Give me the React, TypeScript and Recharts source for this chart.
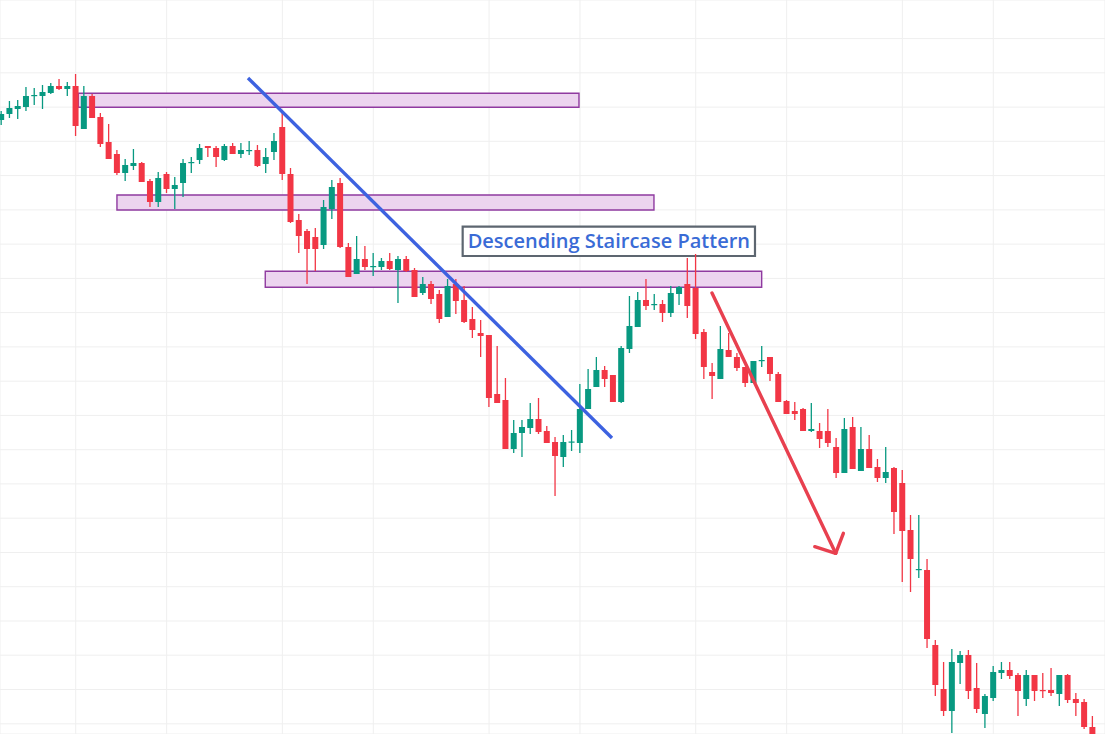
import {
  ComposedChart,
  Bar,
  XAxis,
  YAxis,
  CartesianGrid,
  ReferenceArea,
  ReferenceLine,
} from "recharts";

// candle prices (one entry per session)
const OPEN = [
  614, 620, 625, 627, 638, 638, 641, 648, 645, 648,
  605, 638, 617, 592, 580, 561, 568, 571, 553, 532,
  560, 545, 551, 571, 574, 588, 586, 574, 588, 580,
  583, 584, 570, 582, 607, 560, 514, 503, 497, 489,
  525, 551, 487, 460, 475, 467, 467, 473, 464, 475,
  464, 441, 450, 440, 417, 450, 434, 415, 401, 399,
  340, 334, 285, 301, 306, 315, 303, 292, 277, 292,
  291, 325, 347, 364, 359, 332, 385, 407, 434, 429,
  430, 421, 440, 450, 446, 402, 362, 355, 384, 377,
  367, 351, 373, 377, 360, 333, 323, 325, 303, 303,
  303, 287, 261, 307, 263, 285, 267, 256, 266, 251,
  204, 164, 164, 89, 45, 23, 71, 79, 46, 20,
  36, 61, 64, 59, 35, 59, 44, 44, 40, 59,
  35, 32, 7,
];
const HIGH = [
  623, 633, 634, 647, 646, 649, 651, 655, 652, 660,
  648, 640, 621, 610, 584, 575, 585, 572, 555, 562,
  562, 557, 575, 577, 590, 588, 588, 590, 591, 591,
  593, 589, 586, 601, 624, 566, 520, 505, 506, 534,
  554, 556, 491, 498, 488, 481, 476, 481, 478, 478,
  466, 457, 453, 444, 455, 455, 448, 427, 414, 399,
  388, 356, 314, 314, 331, 336, 308, 297, 299, 304,
  350, 365, 377, 368, 359, 388, 438, 442, 455, 440,
  434, 448, 448, 476, 480, 405, 371, 408, 401, 381,
  367, 373, 388, 377, 362, 334, 332, 326, 331, 311,
  325, 296, 316, 317, 307, 299, 275, 287, 267, 264,
  219, 219, 175, 94, 72, 85, 83, 84, 71, 40,
  68, 72, 72, 61, 64, 59, 61, 66, 59, 60,
  41, 35, 18,
];
const LOW = [
  609, 616, 615, 623, 629, 625, 640, 644, 638, 598,
  605, 616, 587, 575, 559, 553, 564, 552, 527, 527,
  541, 525, 537, 561, 570, 577, 567, 573, 580, 576,
  579, 567, 561, 574, 554, 511, 481, 450, 463, 485,
  515, 486, 457, 460, 464, 458, 464, 464, 431, 462,
  437, 439, 430, 411, 417, 420, 411, 396, 377, 327,
  331, 285, 281, 277, 300, 300, 291, 238, 267, 283,
  281, 325, 347, 347, 332, 331, 381, 407, 424, 424,
  412, 417, 429, 416, 395, 355, 335, 355, 377, 363,
  347, 351, 367, 353, 332, 320, 314, 303, 302, 286,
  287, 256, 261, 265, 263, 266, 252, 251, 200, 152,
  142, 156, 86, 38, 18, 1, 50, 35, 21, 6,
  33, 55, 55, 18, 28, 33, 36, 38, 28, 31,
  18, 5, -6,
];
const CLOSE = [
  620, 626, 628, 638, 639, 642, 648, 645, 648, 608,
  638, 616, 590, 575, 561, 569, 571, 552, 532, 556,
  545, 549, 571, 572, 586, 586, 577, 588, 580, 584,
  584, 568, 577, 593, 560, 512, 498, 485, 485, 527,
  547, 487, 457, 475, 467, 468, 473, 465, 475, 463,
  437, 450, 435, 415, 448, 433, 412, 404, 398, 336,
  331, 285, 301, 307, 315, 302, 291, 278, 292, 292.5,
  325, 345, 364, 355, 332, 386, 408, 434, 428, 430,
  421, 441, 447, 428, 400, 367, 358, 385, 377, 366,
  351, 373, 374, 360, 332, 320, 320, 303, 305, 295,
  291, 261, 305, 265, 285, 266, 256, 262, 222, 203,
  175, 165, 95, 49, 23, 72, 79, 43, 25, 38,
  62, 64, 58, 43, 59, 43, 43, 41, 59, 34,
  31, 7, -2,
];

// grid positions (session index / price level)
const GRID_X = [9, 20, 34, 45, 59, 70, 84, 95, 109, 120];
const GRID_Y = [
  729.7, 695.4, 661.2, 626.9, 592.7, 558.4, 524.1, 489.9, 455.6, 421.4, 387.1,
  352.8, 318.6, 284.3, 250.1, 215.8, 181.5, 147.3, 113.0, 78.8, 44.5, 10.2,
];

// support zones: [fromIndex, toIndex, top, bottom]
const ZONES = [
  [9.31, 69.88, 640.7, 626.7],
  [13.99, 78.95, 539, 524],
  [31.93, 91.98, 462.7, 446.7],
];

const TRENDLINE = [
  { x: 29.84, y: 656 },
  { x: 73.87, y: 296 },
];
const ARROW = [
  { x: 85.97, y: 441 },
  { x: 100.93, y: 180.7 },
];
const ARROW_HEAD = [
  { x: 98.4, y: 187.3 },
  { x: 101.86, y: 200.7 },
];

const LABEL = "Descending Staircase Pattern";
const LABEL_BOX = [55.81, 91.17, 507.3, 478];

const UP = "#089981";
const DOWN = "#f23645";

const data = OPEN.map((open, i) => ({
  i,
  open,
  high: HIGH[i],
  low: LOW[i],
  close: CLOSE[i],
}));

const Candle = (props: any) => {
  const { x, y, width, height, payload } = props;
  const { open, close, high, low } = payload;
  const color = close >= open ? UP : DOWN;
  const h = Math.abs(height);
  const top = Math.min(y, y + height);
  const ratio = high === low ? 0 : h / (high - low);
  const bodyTop = top + (high - Math.max(open, close)) * ratio;
  const bodyH = Math.max(1.2, Math.abs(open - close) * ratio);
  const cx = x + width / 2;
  return (
    <g>
      <line x1={cx} x2={cx} y1={top} y2={top + h} stroke={color} strokeWidth={1.3} />
      <rect x={x} y={bodyTop} width={width} height={bodyH} fill={color} />
    </g>
  );
};

const App = () => {
  return (
    <div style={{ position: "absolute", left: 0, top: 0, background: "#fff" }}>
      <ComposedChart
        width={1105}
        height={734}
        data={data}
        margin={{ top: 0, right: 0, bottom: 0, left: 0 }}
      >
        <CartesianGrid stroke="#efefef" strokeWidth={1} />
        <XAxis
          dataKey="i"
          type="number"
          domain={[-0.157, 133.51]}
          ticks={GRID_X}
          allowDataOverflow
          hide
        />
        <YAxis
          type="number"
          domain={[0, 734]}
          ticks={GRID_Y}
          allowDataOverflow
          hide
        />
        {ZONES.map(([x1, x2, y1, y2], k) => (
          <ReferenceArea
            key={`zone-${k}`}
            x1={x1}
            x2={x2}
            y1={y1}
            y2={y2}
            fill="#ecd4ef"
            fillOpacity={1}
            stroke="#8f3aa0"
            strokeWidth={1.4}
            ifOverflow="visible"
          />
        ))}
        <Bar
          dataKey={(d: any) => [d.low, d.high]}
          barSize={6}
          shape={<Candle />}
          isAnimationActive={false}
        />
        <ReferenceLine
          segment={TRENDLINE}
          stroke="#3d62e0"
          strokeWidth={3.4}
          ifOverflow="visible"
        />
        <ReferenceLine
          segment={ARROW}
          stroke="#e8404f"
          strokeWidth={3.4}
          strokeLinecap="round"
          ifOverflow="visible"
        />
        <ReferenceLine
          segment={[ARROW_HEAD[0], ARROW[1]]}
          stroke="#e8404f"
          strokeWidth={3.4}
          strokeLinecap="round"
          ifOverflow="visible"
        />
        <ReferenceLine
          segment={[ARROW_HEAD[1], ARROW[1]]}
          stroke="#e8404f"
          strokeWidth={3.4}
          strokeLinecap="round"
          ifOverflow="visible"
        />
        <ReferenceArea
          x1={LABEL_BOX[0]}
          x2={LABEL_BOX[1]}
          y1={LABEL_BOX[2]}
          y2={LABEL_BOX[3]}
          fill="#ffffff"
          fillOpacity={1}
          stroke="#5d6670"
          strokeWidth={2.2}
          ifOverflow="visible"
          label={{
            value: LABEL,
            position: "center",
            fill: "#3a6bd6",
            fontSize: 20,
            fontWeight: 600,
            fontFamily: "Open Sans",
          }}
        />
      </ComposedChart>
    </div>
  );
};

export default App;
